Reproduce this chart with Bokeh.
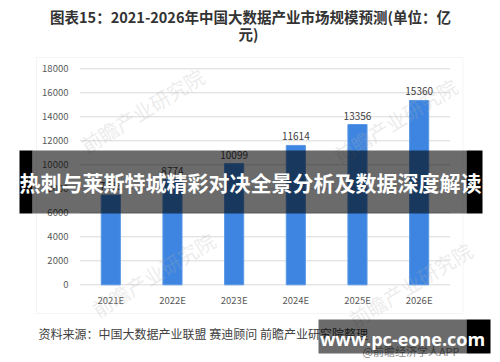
from bokeh.plotting import figure
from bokeh.models import ColumnDataSource, Range1d, Label, BoxAnnotation
from bokeh.core.properties import value
from bokeh.embed import file_html
from bokeh.resources import INLINE

# ---- data ----
years = ["2021E", "2022E", "2023E", "2024E", "2025E", "2026E"]
market_size = [7486, 8774, 10099, 11614, 13356, 15360]
y_ticks = [0, 2000, 4000, 6000, 8000, 10000, 12000, 14000, 16000, 18000]
title_line1 = "图表15：2021-2026年中国大数据产业市场规模预测(单位：亿"
title_line2 = "元)"
source_note = "资料来源：中国大数据产业联盟 赛迪顾问 前瞻产业研究院整理"
credit_text = "@前瞻经济学人APP"
banner_text = "热刺与莱斯特城精彩对决全景分析及数据深度解读"
site_text = "www.pc-eone.com"
watermark_text = "前瞻产业研究院"

CJK = "Noto Sans CJK SC"
W, H = 500, 362

# geometry (canvas pixels)
CAT_PX = 61.67          # pixels per category
CAT0_PX = 110.3         # canvas x of first category centre
ZERO_PX = 284.3         # canvas y of value 0
TOP_PX = 68.3           # canvas y of 18000
PX_PER_UNIT = (ZERO_PX - TOP_PX) / 18000.0

x_range = Range1d(-CAT0_PX / CAT_PX, (W - CAT0_PX) / CAT_PX)
y_range = Range1d(-(H - ZERO_PX) / PX_PER_UNIT, 18000 + TOP_PX / PX_PER_UNIT)

idx = list(range(len(years)))
src = ColumnDataSource(dict(i=idx, year=years, size=market_size,
                            label=[str(v) for v in market_size]))
tick_src = ColumnDataSource(dict(t=y_ticks, lab=[str(t) for t in y_ticks],
                                 x0=[-0.5] * len(y_ticks),
                                 x1=[len(years) - 0.5] * len(y_ticks)))

p = figure(width=W, height=H, output_backend="svg", toolbar_location=None,
           x_range=x_range, y_range=y_range, min_border=0)
p.axis.visible = False
p.grid.visible = False
p.background_fill_color = "white"
p.border_fill_color = "white"
p.outline_line_color = None

def cbox(l, r, t, b, **kw):
    return BoxAnnotation(left=l, right=r, top=t, bottom=b,
                         left_units="canvas", right_units="canvas",
                         top_units="canvas", bottom_units="canvas", **kw)

def clabel(x, y, txt, **kw):
    return Label(x=x, y=y, x_units="canvas", y_units="canvas", text=txt,
                 text_baseline="middle", **kw)

# chart border
p.add_layout(cbox(36, 462.5, 57, 313, fill_alpha=0, line_color="#d9d9d9", line_width=1))

# gridlines and tick labels
p.segment(x0="x0", x1="x1", y0="t", y1="t", source=tick_src, line_color="#d9d9d9", line_width=1)
p.text(x="x0", y="t", text="lab", source=tick_src, x_offset=-11.5, text_align="right",
       text_baseline="middle", text_font=value(CJK), text_font_size="9.5px",
       text_color="#595959")

# bars and value labels
p.vbar(x="i", top="size", bottom=0, width=0.31, source=src, fill_color="#3d85e0",
       line_color="#5a98e6", line_width=1)
p.text(x="i", y="size", text="label", source=src, text_align="center",
       text_baseline="bottom", y_offset=-5, text_font=value(CJK),
       text_font_size="10px", text_color="#404040")
p.text(x="i", y=0, text="year", source=src, text_align="center",
       text_baseline="middle", y_offset=15, text_font=value(CJK),
       text_font_size="9.5px", text_color="#595959")

# faint watermarks
for wx, wy in [(142, 110), (395, 120), (153, 274), (410, 284)]:
    p.add_layout(clabel(wx, wy, watermark_text, text_align="center", angle=0.55,
                        text_font=CJK, text_font_size="20px",
                        text_color="#b0b0b0", text_alpha=0.25))

# title
p.add_layout(clabel(250, 16, title_line1, text_align="center", text_font=CJK,
                    text_font_style="bold", text_font_size="14.5px", text_color="#333333"))
p.add_layout(clabel(248, 33, title_line2, text_align="center", text_font=CJK,
                    text_font_style="bold", text_font_size="14.5px", text_color="#333333"))

# source note
p.add_layout(clabel(38, 333, source_note, text_align="left", text_font=CJK,
                    text_font_size="12px", text_color="#404040"))
p.add_layout(clabel(362, 350, credit_text, text_align="left", text_font=CJK,
                    text_font_size="11px", text_color="#8a8a8a"))

# banner overlay
p.add_layout(cbox(32, 466, 150, 213, fill_color="black", fill_alpha=0.58, line_color=None))
p.add_layout(cbox(19, 32, 150, 213, fill_color="black", fill_alpha=1, line_color=None))
p.add_layout(cbox(466, 482, 150, 213, fill_color="black", fill_alpha=1, line_color=None))
p.add_layout(clabel(250, 181.5, banner_text, text_align="center", text_font=CJK,
                    text_font_style="bold", text_font_size="21px", text_color="white"))

# site box
p.add_layout(cbox(318, 466, 319, 353, fill_color="black", fill_alpha=0.58, line_color=None))
p.add_layout(cbox(466, 490, 319, 353, fill_color="black", fill_alpha=1, line_color=None))
p.add_layout(clabel(402, 338, site_text, text_align="center", text_font="Open Sans",
                    text_font_style="bold", text_font_size="18px", text_color="white"))

open("out.html", "w").write(file_html(p, INLINE))
